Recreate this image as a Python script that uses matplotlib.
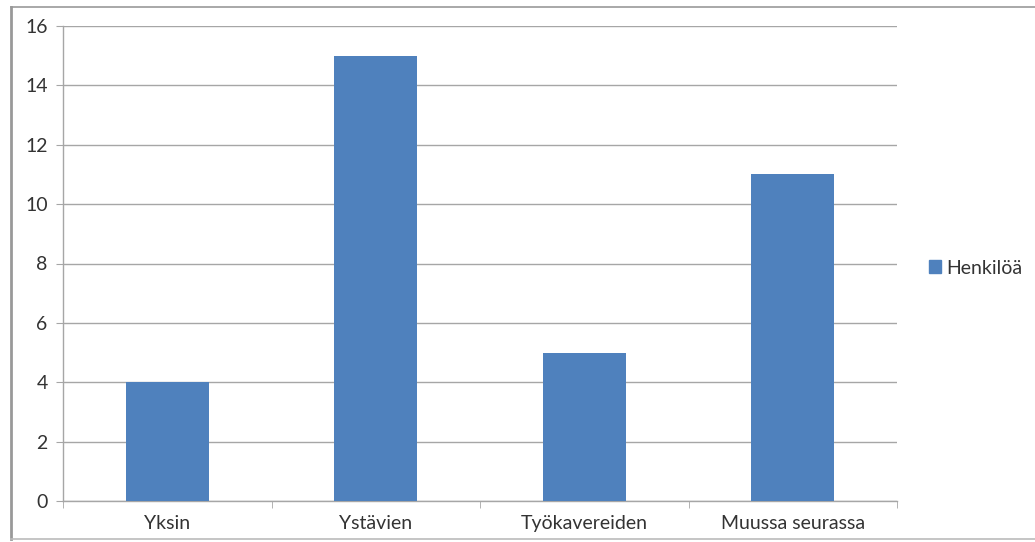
import matplotlib.pyplot as plt
from matplotlib.lines import Line2D
from matplotlib.patches import Patch
import numpy as np

categories = ['Yksin', 'Ystävien', 'Työkavereiden', 'Muussa seurassa']
values = [4, 15, 5, 11]
series_name = 'Henkilöä'
yticks = [0, 2, 4, 6, 8, 10, 12, 14, 16]

bar_color = '#4F81BD'
text_color = '#333333'
grid_color = '#A6A6A6'

plt.rcParams['font.family'] = ['Lato', 'DejaVu Sans']

fig = plt.figure(figsize=(10.35, 5.42), dpi=100)
ax = fig.add_axes([63/1035, 41/542, 834/1035, 475/542])

x = np.arange(len(categories))
ax.bar(x, values, width=0.4, color=bar_color, zorder=3)

ax.set_xlim(-0.5, len(categories) - 0.5)
ax.set_ylim(0, 16)
ax.set_yticks(yticks)
ax.set_xticks(x)
ax.set_xticklabels(categories)
ax.yaxis.grid(True, color=grid_color, linewidth=1)
ax.set_axisbelow(True)

for side in ['top', 'right']:
    ax.spines[side].set_visible(False)
for side in ['left', 'bottom']:
    ax.spines[side].set_color(grid_color)
    ax.spines[side].set_linewidth(1)

ax.tick_params(axis='y', length=5, color=grid_color, labelsize=14,
               labelcolor=text_color, pad=6)
ax.tick_params(axis='x', length=0, labelsize=14, labelcolor=text_color, pad=10)
# small ticks at category boundaries
ax.set_xticks(np.arange(-0.5, len(categories)), minor=True)
ax.tick_params(axis='x', which='minor', length=5, color=grid_color)

ax.legend(handles=[Patch(color=bar_color, label=series_name)],
          loc='center left', bbox_to_anchor=(929/1035, 274/542),
          bbox_transform=fig.transFigure, frameon=False, fontsize=14,
          handlelength=0.6, handleheight=0.6, handletextpad=0.3,
          labelcolor=text_color, borderpad=0, borderaxespad=0)

# chart border
fig.add_artist(Line2D([10.5/1035, 10.5/1035], [3/542, 535/542], transform=fig.transFigure,
                      color='#999999', linewidth=2))
fig.add_artist(Line2D([10.5/1035, 1], [535/542, 535/542], transform=fig.transFigure,
                      color='#999999', linewidth=1.2))
fig.add_artist(Line2D([10.5/1035, 1], [3.5/542, 3.5/542], transform=fig.transFigure,
                      color='#BBBBBB', linewidth=1.2))

fig.savefig('out.png', dpi=100)
